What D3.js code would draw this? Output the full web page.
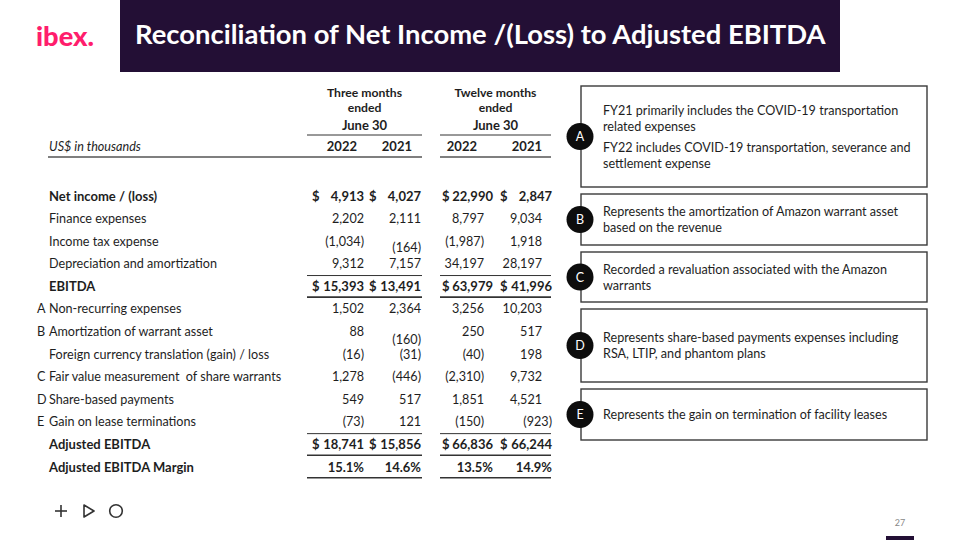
<!DOCTYPE html>
<html><head><meta charset="utf-8">
<script src="https://cdn.jsdelivr.net/npm/d3@7"></script>
<style>
html,body{margin:0;padding:0;background:#fff;}
svg{display:block;font-family:Lato,"Noto Sans",sans-serif;}
text{white-space:pre;}
</style></head>
<body>
<svg id="c" width="960" height="540"></svg>
<script>
// ---------- DATA ----------
const title = "Reconciliation of Net Income /(Loss) to Adjusted EBITDA";
const unitLabel = "US$ in thousands";
const periods = ["Three months", "Twelve months"];
const periodSub = ["ended", "ended"];
const periodDate = ["June 30", "June 30"];
const years = ["2022", "2021"];
const columns = ["q2022", "q2021", "y2022", "y2021"];

const rowLabels = [
  "Net income / (loss)", "Finance expenses", "Income tax expense",
  "Depreciation and amortization", "EBITDA", "Non-recurring expenses",
  "Amortization of warrant asset", "Foreign currency translation (gain) / loss",
  "Fair value measurement  of share warrants", "Share-based payments",
  "Gain on lease terminations", "Adjusted EBITDA", "Adjusted EBITDA Margin"
];
const rowNotes = ["", "", "", "", "", "A", "B", "", "C", "D", "E", "", ""];
const boldRows = ["Net income / (loss)", "EBITDA", "Adjusted EBITDA", "Adjusted EBITDA Margin"];
const dollarRows = ["Net income / (loss)", "EBITDA", "Adjusted EBITDA"];
const percentRows = ["Adjusted EBITDA Margin"];

const q2022 = [4913, 2202, -1034, 9312, 15393, 1502, 88, -16, 1278, 549, -73, 18741, 15.1];
const q2021 = [4027, 2111, -164, 7157, 13491, 2364, -160, -31, -446, 517, 121, 15856, 14.6];
const y2022 = [22990, 8797, -1987, 34197, 63979, 3256, 250, -40, -2310, 1851, -150, 66836, 13.5];
const y2021 = [2847, 9034, 1918, 28197, 41996, 10203, 517, 198, 9732, 4521, -923, 66244, 14.9];

const noteKeys = ["A", "B", "C", "D", "E"];
const noteTexts = [
  [["FY21 primarily includes the COVID-19 transportation", "related expenses"],
   ["FY22 includes COVID-19 transportation, severance and", "settlement expense"]],
  [["Represents the amortization of Amazon warrant asset", "based on the revenue"]],
  [["Recorded a revaluation associated with the Amazon", "warrants"]],
  [["Represents share-based payments expenses including", "RSA, LTIP, and phantom plans"]],
  [["Represents the gain on termination of facility leases"]]
];
const pageNumber = "27";
const logoText = "ibex.";

// ---------- RENDER ----------
const svg = d3.select("#c");
const DARK = "#230f35", PINK = "#ff1d6c", INK = "#1e1e1e";

// title bar
svg.append("rect").attr("x", 120).attr("y", 0).attr("width", 720).attr("height", 72).attr("fill", DARK);
const tt = svg.append("text").attr("x", 135).attr("y", 44).attr("fill", "#fff")
  .attr("font-weight", 700).attr("font-size", 25).text(title);
tt.attr("font-size", 25 * 691 / tt.node().getComputedTextLength());

const lg = svg.append("text").attr("x", 36).attr("y", 46).attr("fill", PINK)
  .attr("font-weight", 900).attr("font-size", 26).text(logoText);
lg.attr("font-size", 26 * 58 / lg.node().getComputedTextLength());

// scales
const y = d3.scalePoint().domain(d3.range(rowLabels.length)).range([196, 467]);
const groupX = d3.scaleOrdinal().domain(periods).range([[307, 422], [440, 551]]);
const valueRight = d3.scaleOrdinal().domain(columns).range([364, 421, 484, 542]);
const boldRight = d3.scaleOrdinal().domain(columns).range([364, 421, 493, 552]);
const headRight = d3.scaleOrdinal().domain(columns).range([357, 412, 477, 542]);
const dollarX = d3.scaleOrdinal().domain(columns).range([312, 369, 442, 500]);
const values = { q2022, q2021, y2022, y2021 };
const fmt = d3.format(",");
const fmtVal = (v, pct) => pct ? v.toFixed(1) + "%" : (v < 0 ? "(" + fmt(-v) + ")" : fmt(v));
// small typesetting quirks of the original slide
const nudge = {
  "Income tax expense|q2021": [0, 6],
  "Amortization of warrant asset|q2021": [0, 8],
  "Gain on lease terminations|y2021": [10, 0]
};

const fs = 12.6, fsb = 13;
// headers
periods.forEach((p, i) => {
  const [x0, x1] = groupX(p);
  const cx = (x0 + x1) / 2;
  const g = svg.append("g").attr("font-weight", 700).attr("fill", INK).attr("text-anchor", "middle");
  g.append("text").attr("x", cx).attr("y", 92.5).attr("dominant-baseline", "central").attr("font-size", 12.2).text(p);
  g.append("text").attr("x", cx).attr("y", 107.2).attr("dominant-baseline", "central").attr("font-size", 12.2).text(periodSub[i]);
  g.append("text").attr("x", cx).attr("y", 125).attr("dominant-baseline", "central").attr("font-size", fsb).text(periodDate[i]);
  svg.append("line").attr("x1", x0).attr("x2", x1).attr("y1", 135).attr("y2", 135).attr("stroke", "#333").attr("stroke-width", 1);
});
columns.forEach((c, i) => {
  svg.append("text").attr("x", headRight(c)).attr("y", 146).attr("text-anchor", "end")
    .attr("dominant-baseline", "central").attr("font-weight", 700).attr("font-size", fsb).attr("fill", INK)
    .text(years[i % 2]);
});
svg.append("text").attr("x", 49).attr("y", 146).attr("dominant-baseline", "central")
  .attr("font-style", "italic").attr("font-size", fs).attr("fill", INK).text(unitLabel);
svg.append("line").attr("x1", 48).attr("x2", groupX(periods[0])[1]).attr("y1", 157).attr("y2", 157).attr("stroke", "#555").attr("stroke-width", 1.5);
svg.append("line").attr("x1", groupX(periods[1])[0]).attr("x2", groupX(periods[1])[1]).attr("y1", 157).attr("y2", 157).attr("stroke", "#555").attr("stroke-width", 1.5);

// rows
const rows = svg.append("g").selectAll("g").data(rowLabels).join("g");
rows.append("text").attr("x", 49).attr("y", (d, i) => y(i)).attr("dominant-baseline", "central")
  .attr("font-size", d => boldRows.includes(d) ? fsb : fs).attr("fill", INK)
  .attr("font-weight", d => boldRows.includes(d) ? 700 : 400).text(d => d);
rows.append("text").attr("x", 37).attr("y", (d, i) => y(i)).attr("dominant-baseline", "central")
  .attr("font-size", fs).attr("fill", INK).text((d, i) => rowNotes[i]);

rowLabels.forEach((label, i) => {
  const bold = boldRows.includes(label);
  columns.forEach(c => {
    const [dx, dy] = nudge[label + "|" + c] || [0, 0];
    svg.append("text").attr("x", (bold ? boldRight(c) : valueRight(c)) + dx).attr("y", y(i) + dy).attr("text-anchor", "end")
      .attr("dominant-baseline", "central").attr("font-size", bold ? fsb : fs).attr("fill", INK)
      .attr("font-weight", bold ? 700 : 400).text(fmtVal(values[c][i], percentRows.includes(label)));
    if (dollarRows.includes(label)) {
      svg.append("text").attr("x", dollarX(c)).attr("y", y(i)).attr("dominant-baseline", "central")
        .attr("font-size", fsb).attr("fill", INK).attr("font-weight", 700).text("$");
    }
  });
});

// rule lines around totals
const step = y.step();
function rule(yy, w) {
  periods.forEach(p => {
    const [x0, x1] = groupX(p);
    svg.append("line").attr("x1", x0).attr("x2", x1).attr("y1", yy).attr("y2", yy).attr("stroke", "#333").attr("stroke-width", w);
  });
}
["EBITDA", "Adjusted EBITDA"].forEach(l => {
  const i = rowLabels.indexOf(l);
  rule(y(i) - step / 2 + 0.5, 1);
  rule(y(i) + step / 2 - 0.5, 1.6);
});
rule(y(rowLabels.length - 1) + step / 2 - 0.5, 1.6);

// note boxes
const boxH = [101, 51, 50, 73, 51];
let by = 86;
noteKeys.forEach((k, i) => {
  const h = boxH[i];
  svg.append("rect").attr("x", 581).attr("y", by).attr("width", 346).attr("height", h)
    .attr("fill", "#fff").attr("stroke", "#3a3a3a").attr("stroke-width", 1.4);
  const cy = by + h / 2;
  svg.append("circle").attr("cx", 580).attr("cy", cy).attr("r", 13.5).attr("fill", "#0d0d0d");
  svg.append("text").attr("x", 580).attr("y", cy).attr("text-anchor", "middle").attr("dominant-baseline", "central")
    .attr("fill", "#fff").attr("font-size", 12.5).text(k);
  const paras = noteTexts[i];
  const lines = [];
  let pos = 0;
  paras.forEach((p, pi) => {
    if (pi > 0) pos += 5;
    p.forEach(l => { lines.push({ t: l, o: pos }); pos += 16; });
  });
  const total = pos - 16;
  lines.forEach(l => {
    svg.append("text").attr("x", 603).attr("y", cy - total / 2 + l.o).attr("dominant-baseline", "central")
      .attr("font-size", fs).attr("fill", INK).text(l.t);
  });
  by += h + 7;
});

// footer
const f = svg.append("g").attr("stroke", "#333").attr("stroke-width", 1.6).attr("fill", "none");
f.append("line").attr("x1", 55).attr("x2", 67).attr("y1", 511).attr("y2", 511);
f.append("line").attr("x1", 61).attr("x2", 61).attr("y1", 505).attr("y2", 517);
f.append("path").attr("d", "M84,505 L94,511 L84,517 Z").attr("stroke-linejoin", "round");
f.append("circle").attr("cx", 116).attr("cy", 511).attr("r", 6.3);
svg.append("text").attr("x", 900).attr("y", 526).attr("text-anchor", "middle").attr("font-size", 9).attr("fill", "#888").text(pageNumber);
svg.append("rect").attr("x", 886).attr("y", 536).attr("width", 28).attr("height", 4).attr("fill", DARK);
</script>
</body></html>
